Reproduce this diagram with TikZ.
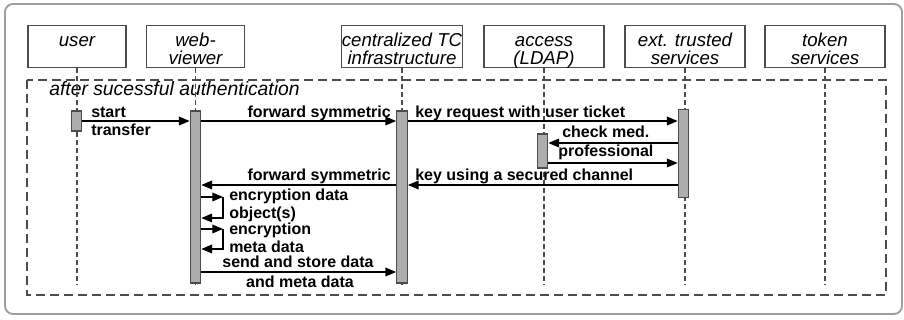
\documentclass[tikz,border=0pt]{standalone}
\usepackage{fontspec}
\setmainfont{Liberation Sans}
\usetikzlibrary{arrows.meta}
\definecolor{framegray}{rgb}{0.62,0.62,0.62}
\definecolor{linegray}{rgb}{0.3,0.3,0.3}
\definecolor{barfill}{rgb}{0.68,0.68,0.68}

\tikzset{
  head/.style={draw=linegray, line width=0.8pt, minimum width=73.5pt, minimum height=32pt,
    align=center, inner sep=0pt, font=\fontsize{14}{13.5}\selectfont\itshape,
    text height=29.5pt, text depth=2.5pt},
  life/.style={draw=linegray, line width=0.8pt, dash pattern=on 3.5pt off 2.5pt},
  actbar/.style={draw=linegray, fill=barfill, line width=0.8pt, minimum width=8pt, inner sep=0pt},
  msg/.style={draw=black, line width=0.9pt, -{Triangle[length=8pt,width=6.5pt]}},
  msgtext/.style={font=\fontsize{12}{13.5}\selectfont\bfseries, inner sep=0pt, align=left},
}

\begin{document}
\begin{tikzpicture}[x=0.75pt, y=-0.75pt]
  \useasboundingbox (0,0) rectangle (904,320);
  % outer frame
  \draw[framegray, line width=1.4pt, rounded corners=6pt] (5,4) rectangle (902,314);

  % heads
  \node[head] (user) at (77,46.5) {user\\\mbox{}};
  \node[head] (web) at (195.5,46.5) {web-\\viewer};
  \node[head, minimum width=90pt] (tc) at (402,46.5) {centralized TC\\infrastructure};
  \node[head, minimum width=90pt] (ldap) at (544,46.5) {access\\(LDAP)};
  \node[head, minimum width=90pt] (ext) at (685,46.5) {ext. trusted\\services};
  \node[head, minimum width=90pt] (token) at (825,46.5) {token\\services};

  % combined fragment
  \draw[linegray, line width=1pt, dash pattern=on 7pt off 3.5pt] (27,80) rectangle (886,295);
  \node[font=\fontsize{14.5}{16}\selectfont\itshape, anchor=base west, inner sep=0pt] (frag) at (49,96)
    {after sucessful authentication};

  % lifelines
  \foreach \n in {user,web,tc,ldap,ext,token}
    \draw[life] (\n.south) -- (\n.south |- 0,285);

  % activation bars
  \node[actbar, minimum height=15pt] (userbar) at (76.5,121) {};
  \node[actbar, minimum height=129pt] (webbar) at (195.5,197) {};
  \node[actbar, minimum height=129pt] (tcbar) at (402,197) {};
  \node[actbar, minimum height=25.5pt] (ldapbar) at (542.5,151) {};
  \node[actbar, minimum height=65.5pt] (extbar) at (683.5,153.5) {};

  % messages
  \draw[msg] (userbar.east |- 0,121) -- (webbar.west |- 0,121);
  \node[msgtext, anchor=base west] (m1) at (91,136) {start\\transfer};
  \draw[msg] (webbar.east |- 0,121) -- (tcbar.west |- 0,121);
  \node[msgtext, anchor=base east] (m2) at (391,118) {forward symmetric};
  \draw[msg] (tcbar.east |- 0,121) -- (extbar.west |- 0,121);
  \node[msgtext, anchor=base west] (m3) at (415,118) {key request with user ticket};
  \draw[msg] (extbar.west |- 0,143) -- (ldapbar.east |- 0,143);
  \node[msgtext, anchor=base west] (m4) at (562,138) {check med.};
  \draw[msg] (ldapbar.east |- 0,163) -- (extbar.west |- 0,163);
  \node[msgtext, anchor=base west] (m5) at (558,157) {professional};
  \draw[msg] (extbar.west |- 0,185) -- (tcbar.east |- 0,185);
  \node[msgtext, anchor=base west] (m6) at (415,181) {key using a secured channel};
  \draw[msg] (tcbar.west |- 0,185) -- (webbar.east |- 0,185);
  \node[msgtext, anchor=base east] (m7) at (391,181) {forward symmetric};

  % self messages
  \coordinate (s1) at (223,197);
  \draw[msg] (webbar.east |- s1) -- (s1);
  \draw[msg] (s1) -- ++(0,21) -- (webbar.east |- 0,218);
  \node[msgtext, anchor=base west] (m8) at (229,219) {encryption data\\object(s)};
  \coordinate (s2) at (223,229);
  \draw[msg] (webbar.east |- s2) -- (s2);
  \draw[msg] (s2) -- ++(0,20) -- (webbar.east |- 0,249);
  \node[msgtext, anchor=base west] (m9) at (229,253) {encryption\\meta data};

  \draw[msg] (webbar.east |- 0,272) -- (tcbar.west |- 0,272);
  \node[msgtext, anchor=base] (m10) at (298,268) {send and store data};
  \node[msgtext, anchor=base] (m11) at (300,288) {and meta data};
\end{tikzpicture}
\end{document}
